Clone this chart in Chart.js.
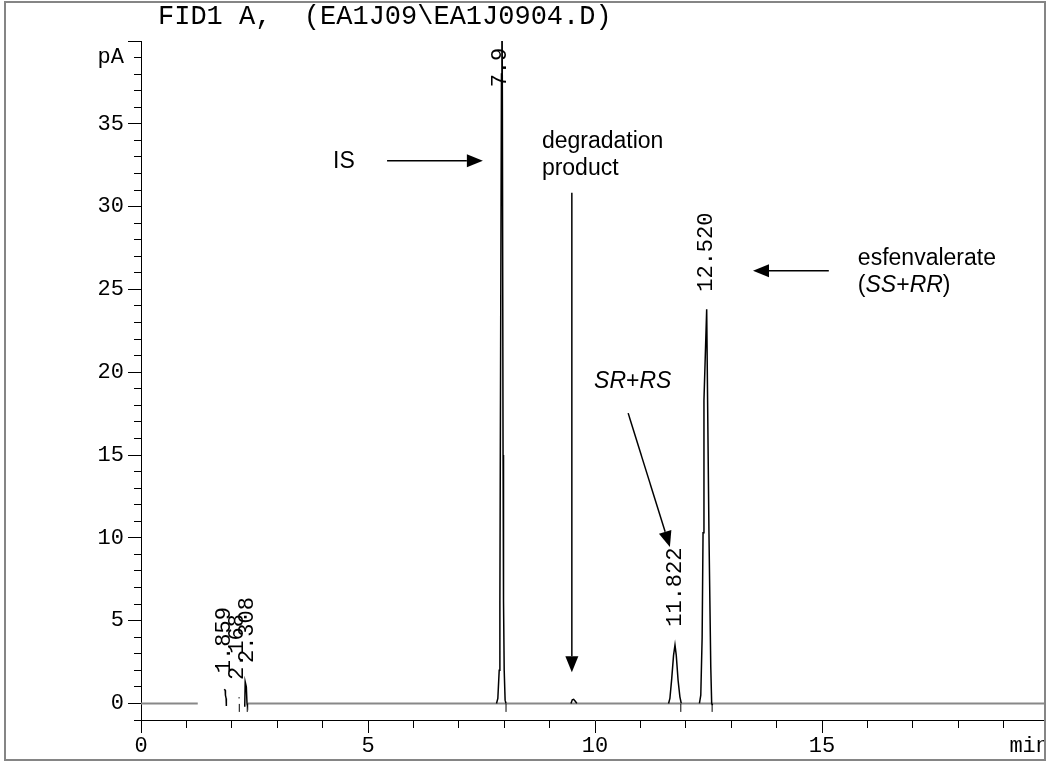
<!DOCTYPE html>
<html>
<head>
<meta charset="utf-8">
<title>FID1 A chromatogram</title>
<script src="https://cdn.jsdelivr.net/npm/chart.js@4.4.1/dist/chart.umd.min.js"></script>
<style>
    html, body { margin: 0; padding: 0; background: #fff; overflow: hidden; }
    #frame {
        position: absolute; left: 4px; top: 1px;
        width: 1042px; height: 760px; box-sizing: border-box;
        border: 2px solid #858585; overflow: hidden;
    }
    #chart { position: absolute; left: 0; top: 0; }
</style>
</head>
<body>
<div id="frame"><canvas id="chart" width="1090" height="756"></canvas></div>
<script>
// Data (minutes / pA)
const chartTitle = 'FID1 A,  (EA1J09\\EA1J0904.D)';

const signalTimes = [
    1.83, 1.855, 1.86, 1.875, 1.88, 1.881,
    2.15, 2.17, 2.171,
    2.285, 2.295, 2.32, 2.335, 2.345, 2.346,
    7.83, 7.86, 7.89, 7.905, 7.925, 7.94, 7.95, 7.96, 7.975, 7.985, 8.0, 8.02, 8.04, 8.041,
    9.47, 9.50, 9.53, 9.57, 9.60, 9.601,
    11.62, 11.65, 11.69, 11.73, 11.762, 11.79, 11.83, 11.87, 11.9, 11.901,
    12.30, 12.33, 12.36, 12.38, 12.40, 12.46, 12.48, 12.51, 12.55, 12.57, 12.59
];
const signalValues = [
    0.85, 0.8, 0.5, 0.3, -0.15, null,
    0.35, 0.35, null,
    -0.2, 1.31, 1.0, 0, -0.1, null,
    0, 0.3, 2, 6.2, 25, 38, 45, 36, 15, 6.2, 2, 0.2, 0, null,
    0, 0.22, 0.25, 0.12, 0, null,
    0, 0.3, 1.5, 2.9, 3.53, 2.9, 1.4, 0.4, 0, null,
    0, 0.5, 4, 10.3, 18.3, 23.8, 18.3, 10.3, 2.2, 0, -0.1
];

const baseTimes = [0, 1.25, 1.26, 2.35, 20];
const baseValues = [0, 0, null, 0, 0];

// integration end markers
const markerTimes = [2.165, 2.34, 8.04, 11.89, 12.58];

const peakLabels = ['1.859', '2.168', '2.308', '7.9', '11.822', '12.520'];
const peakLabelTimes = [1.83, 2.125, 2.335, 7.91, 11.76, 12.45];
const peakLabelBase = [1.83, 1.41, 2.44, 37.2, 4.63, 24.86];

// annotations: text runs [text, italic]
const noteLines = [
    [[['IS', false]]],
    [[['degradation', false]], [['product', false]]],
    [[['SR', true], ['+', false], ['RS', true]]],
    [[['esfenvalerate', false]], [['(', false], ['SS', true], ['+', false], ['RR', true], [')', false]]]
];
const noteTimes = [4.23, 8.83, 9.98, 15.79];
const noteBaselines = [[32.33], [33.54, 31.9], [19.05], [26.47, 24.86]];
const arrowFrom = [[5.42, 32.77], [9.49, 30.83], [10.73, 17.53], [15.15, 26.13]];
const arrowTo = [[7.53, 32.77], [9.49, 1.89], [11.65, 9.44], [13.48, 26.13]];

const MONO = '"Liberation Mono", "DejaVu Sans Mono", monospace';
const SANS = '"Liberation Sans", Arial, sans-serif';

function toPoints(xs, ys) {
    return xs.map((t, i) => ({ x: t, y: ys[i] }));
}

function drawArrow(ctx, x0, y0, x1, y1) {
    const ang = Math.atan2(y1 - y0, x1 - x0);
    const len = 16, half = 6.5;
    const bx = x1 - len * Math.cos(ang), by = y1 - len * Math.sin(ang);
    ctx.beginPath();
    ctx.moveTo(x0, y0);
    ctx.lineTo(bx, by);
    ctx.stroke();
    ctx.beginPath();
    ctx.moveTo(x1, y1);
    ctx.lineTo(bx + half * Math.sin(ang), by - half * Math.cos(ang));
    ctx.lineTo(bx - half * Math.sin(ang), by + half * Math.cos(ang));
    ctx.closePath();
    ctx.fill();
}

const overlay = {
    id: 'overlay',
    afterDraw(chart) {
        const { ctx, chartArea, scales: { x, y } } = chart;
        ctx.save();
        ctx.fillStyle = '#000';
        ctx.strokeStyle = '#000';

        // title
        ctx.font = '27px ' + MONO;
        ctx.textAlign = 'left';
        ctx.textBaseline = 'alphabetic';
        ctx.fillText(chartTitle, chartArea.left + 17, chartArea.top - 17);

        // rotated retention time labels
        ctx.font = '22px ' + MONO;
        ctx.textBaseline = 'middle';
        peakLabels.forEach((txt, i) => {
            ctx.save();
            ctx.translate(x.getPixelForValue(peakLabelTimes[i]), y.getPixelForValue(peakLabelBase[i]));
            ctx.rotate(-Math.PI / 2);
            ctx.fillText(txt, 0, 0);
            ctx.restore();
        });

        // annotations
        ctx.textBaseline = 'alphabetic';
        ctx.lineWidth = 1.5;
        noteLines.forEach((lines, i) => {
            lines.forEach((runs, j) => {
                let px = x.getPixelForValue(noteTimes[i]);
                const py = y.getPixelForValue(noteBaselines[i][j]);
                runs.forEach(([s, it]) => {
                    ctx.font = (it ? 'italic ' : '') + '23px ' + SANS;
                    ctx.fillText(s, px, py);
                    px += ctx.measureText(s).width;
                });
            });
            drawArrow(ctx,
                x.getPixelForValue(arrowFrom[i][0]), y.getPixelForValue(arrowFrom[i][1]),
                x.getPixelForValue(arrowTo[i][0]), y.getPixelForValue(arrowTo[i][1]));
        });
        ctx.restore();
    }
};

const isMajor = c => c.tick && Math.round(c.tick.value) % 5 === 0;

new Chart(document.getElementById('chart').getContext('2d'), {
    type: 'line',
    data: {
        datasets: [
            {
                label: 'signal',
                data: toPoints(signalTimes, signalValues),
                borderColor: '#000',
                borderWidth: 1.5,
                pointRadius: 0,
                spanGaps: false,
                order: 0
            },
            {
                label: 'baseline',
                data: toPoints(baseTimes, baseValues),
                borderColor: '#888',
                borderWidth: 2,
                pointRadius: 0,
                spanGaps: false,
                order: 2
            },
            {
                label: 'markers',
                data: markerTimes.map(t => ({ x: t, y: -0.27 })),
                showLine: false,
                pointStyle: 'line',
                rotation: 90,
                pointRadius: 4,
                borderColor: '#000',
                borderWidth: 1,
                order: 1
            }
        ]
    },
    options: {
        responsive: false,
        animation: false,
        layout: { padding: { top: 38, right: 47, bottom: 0, left: 0 } },
        plugins: {
            legend: { display: false },
            tooltip: { enabled: false }
        },
        scales: {
            x: {
                type: 'linear',
                min: 0,
                max: 20,
                ticks: {
                    stepSize: 1,
                    autoSkip: false,
                    maxRotation: 0,
                    padding: 0,
                    color: '#000',
                    font: { family: MONO, size: 22 },
                    callback: v => (v % 5 === 0 && v < 20) ? String(v) : ''
                },
                grid: {
                    drawOnChartArea: false,
                    tickLength: 13,
                    tickColor: '#000',
                    tickWidth: 1,
                    tickBorderDash: c => isMajor(c) ? [] : [7, 30]
                },
                border: { color: '#000', width: 1 },
                title: {
                    display: true,
                    text: 'min',
                    align: 'end',
                    color: '#000',
                    font: { family: MONO, size: 22 },
                    padding: 0
                },
                afterFit: s => { s.height = 39; }
            },
            y: {
                type: 'linear',
                min: -1,
                max: 40,
                ticks: {
                    stepSize: 1,
                    autoSkip: false,
                    padding: 4,
                    color: '#000',
                    font: { family: MONO, size: 22 },
                    callback: v => v === 39 ? 'pA' : ((v % 5 === 0 && v >= 0 && v < 40) ? String(v) : '')
                },
                grid: {
                    drawOnChartArea: false,
                    tickLength: 13,
                    tickColor: '#000',
                    tickWidth: 1,
                    tickBorderDash: c => isMajor(c) ? [] : [0, 6, 30]
                },
                border: { color: '#000', width: 1 },
                afterFit: s => { s.width = 135; }
            }
        }
    },
    plugins: [overlay]
});
</script>
</body>
</html>
